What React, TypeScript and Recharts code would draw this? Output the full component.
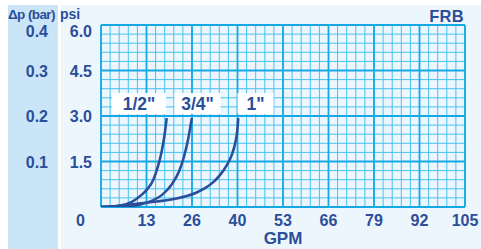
import React from "react";
import { LineChart, Line, XAxis, YAxis, ReferenceLine, ReferenceDot } from "recharts";

// ---- data ----
const xTickLabels = ["0", "13", "26", "40", "53", "66", "79", "92", "105"];
const psiTicks = [0, 1.5, 3, 4.5, 6];
const psiTickLabels = ["0", "1.5", "3.0", "4.5", "6.0"];
const barTickLabels = ["", "0.1", "0.2", "0.3", "0.4"];

const halfInch = [
  { gpm: 0, psi: 0 },
  { gpm: 5.5, psi: 0.05 },
  { gpm: 8.9, psi: 0.17 },
  { gpm: 11.7, psi: 0.4 },
  { gpm: 13.3, psi: 0.58 },
  { gpm: 15.1, psi: 0.9 },
  { gpm: 16.4, psi: 1.33 },
  { gpm: 17.5, psi: 1.83 },
  { gpm: 18.3, psi: 2.35 },
  { gpm: 18.95, psi: 2.93 },
];
const threeQuarterInch = [
  { gpm: 0, psi: 0 },
  { gpm: 8.4, psi: 0.03 },
  { gpm: 13.6, psi: 0.16 },
  { gpm: 17.6, psi: 0.4 },
  { gpm: 20.5, psi: 0.76 },
  { gpm: 22.5, psi: 1.17 },
  { gpm: 23.9, psi: 1.64 },
  { gpm: 25.1, psi: 2.22 },
  { gpm: 26.2, psi: 2.93 },
];
const oneInch = [
  { gpm: 0, psi: 0 },
  { gpm: 4, psi: 0.02 },
  { gpm: 10.8, psi: 0.11 },
  { gpm: 16, psi: 0.18 },
  { gpm: 19.4, psi: 0.23 },
  { gpm: 21.8, psi: 0.28 },
  { gpm: 24.7, psi: 0.36 },
  { gpm: 27.6, psi: 0.48 },
  { gpm: 30.0, psi: 0.62 },
  { gpm: 32.4, psi: 0.82 },
  { gpm: 34.3, psi: 1.05 },
  { gpm: 36.3, psi: 1.38 },
  { gpm: 37.7, psi: 1.71 },
  { gpm: 38.8, psi: 2.15 },
  { gpm: 39.3, psi: 2.5 },
  { gpm: 39.6, psi: 2.93 },
];

const sizeLabels = [
  { text: '1/2"', gpm: 10.96, psi: 3.41 },
  { text: '3/4"', gpm: 27.84, psi: 3.41 },
  { text: '1"', gpm: 44.57, psi: 3.41 },
];
const labelBoxWidths = [54, 46, 36];

// grid (styling only)
const X_MAX = 105;
const Y_MAX = 6;
const xMinor = Array.from({ length: 41 }, (_, i) => (i * X_MAX) / 40);
const xMajor = Array.from({ length: 9 }, (_, i) => (i * X_MAX) / 8);
const yMinor = Array.from({ length: 21 }, (_, i) => (i * Y_MAX) / 20);
const yMajor = psiTicks;

const INK = "#2b4e9a";
const FONT = "'Liberation Sans', Arial, Helvetica, sans-serif";

const XTick = (props: any) => {
  const { x, y, index } = props;
  const dx = index === 0 ? -20.5 : 0;
  return (
    <text x={x + dx} y={y + 19} textAnchor="middle" fill={INK} fontSize={16} fontWeight="bold" fontFamily={FONT}>
      {xTickLabels[index]}
    </text>
  );
};

const YTick = (props: any) => {
  const { x, y, index } = props;
  if (index === 0) return null;
  const dy = index === psiTicks.length - 1 ? 12.3 : 6;
  return (
    <g>
      <text x={x - 9} y={y + dy} textAnchor="end" fill={INK} fontSize={16} fontWeight="bold" fontFamily={FONT}>
        {psiTickLabels[index]}
      </text>
      <text x={x - 53} y={y + dy} textAnchor="end" fill={INK} fontSize={16} fontWeight="bold" fontFamily={FONT}>
        {barTickLabels[index]}
      </text>
    </g>
  );
};

const makeLabelShape = (i: number) => (props: any) => {
  const { cx, cy } = props;
  const w = labelBoxWidths[i];
  const h = 21;
  return (
    <g>
      <rect x={cx - w / 2} y={cy - h / 2} width={w} height={h} fill="#ffffff" />
      <text x={cx} y={cy + 6.5} textAnchor="middle" fill={INK} fontSize={17.5} fontWeight="bold" fontFamily={FONT}>
        {sizeLabels[i].text}
      </text>
    </g>
  );
};

export default function App() {
  return (
    <div style={{ position: "absolute", left: 0, top: 0, width: 481, height: 249, background: "#ffffff", fontFamily: FONT }}>
      <div style={{ position: "absolute", left: 8, top: 5, width: 50, height: 244, background: "#cae5f8" }} />
      <div style={{ position: "absolute", left: 61, top: 5, width: 420, height: 244, background: "#eef6fd" }} />
      <div style={{ position: "absolute", left: 0, top: 0 }}>
        <LineChart width={481} height={249} margin={{ top: 25, right: 16, bottom: 12, left: 41 }}>
          <XAxis
            dataKey="gpm"
            type="number"
            domain={[0, X_MAX]}
            ticks={xMajor}
            interval={0}
            tickLine={false}
            axisLine={false}
            tickSize={0}
            tickMargin={0}
            height={30}
            tick={<XTick />}
            allowDataOverflow
          />
          <YAxis
            type="number"
            domain={[0, Y_MAX]}
            ticks={psiTicks}
            interval={0}
            tickLine={false}
            axisLine={false}
            tickSize={0}
            tickMargin={0}
            width={60}
            tick={<YTick />}
            allowDataOverflow
          />
          {xMinor.map((v) => (
            <ReferenceLine key={"xm" + v} x={v} stroke="#45c3f0" strokeWidth={1} />
          ))}
          {yMinor.map((v) => (
            <ReferenceLine key={"ym" + v} y={v} stroke="#45c3f0" strokeWidth={1} />
          ))}
          {xMajor.map((v) => (
            <ReferenceLine key={"xM" + v} x={v} stroke="#14a9e4" strokeWidth={1.8} />
          ))}
          {yMajor.map((v) => (
            <ReferenceLine key={"yM" + v} y={v} stroke="#14a9e4" strokeWidth={1.8} />
          ))}
          <Line data={oneInch} dataKey="psi" type="monotone" stroke={INK} strokeWidth={2.6} dot={false} isAnimationActive={false} />
          <Line data={threeQuarterInch} dataKey="psi" type="monotone" stroke={INK} strokeWidth={2.6} dot={false} isAnimationActive={false} />
          <Line data={halfInch} dataKey="psi" type="monotone" stroke={INK} strokeWidth={2.6} dot={false} isAnimationActive={false} />
          {sizeLabels.map((l, i) => (
            <ReferenceDot key={l.text} x={l.gpm} y={l.psi} r={0} shape={makeLabelShape(i)} />
          ))}
        </LineChart>
      </div>
      <svg width={481} height={249} style={{ position: "absolute", left: 0, top: 0, pointerEvents: "none" }}>
        <text x={8} y={19} fill={INK} fontSize={13.5} fontWeight="bold" fontFamily={FONT} letterSpacing={-0.6}>
          Δp (bar)
        </text>
        <text x={60} y={19} fill={INK} fontSize={14} fontWeight="bold" fontFamily={FONT}>
          psi
        </text>
        <text x={464} y={21.5} textAnchor="end" fill={INK} fontSize={16.5} fontWeight="bold" fontFamily={FONT} letterSpacing={0.3}>
          FRB
        </text>
        <text x={283} y={244} textAnchor="middle" fill={INK} fontSize={17} fontWeight="bold" fontFamily={FONT}>
          GPM
        </text>
      </svg>
    </div>
  );
}
